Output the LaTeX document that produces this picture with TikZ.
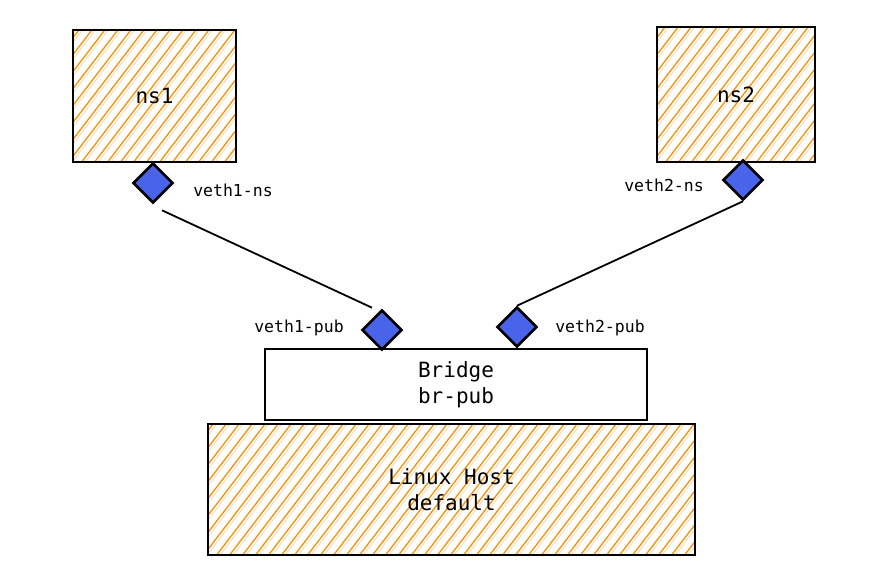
\documentclass[tikz,border=0pt]{standalone}
\usepackage{fontspec}
\setmonofont{DejaVu Sans Mono}
\usetikzlibrary{positioning,shapes.geometric}
\definecolor{hatchorange}{RGB}{247,145,5}
\definecolor{portblue}{RGB}{74,99,235}

\begin{document}
\begin{tikzpicture}[x=1pt,y=-1pt,
    box/.style={draw=black, line width=2.6pt, inner sep=0pt, align=center,
        font=\ttfamily\fontsize{21}{26}\selectfont},
    hatched/.style={path picture={
        \foreach \s in {-220,-207,...,520} {
            \draw[hatch] ([xshift=\s pt, yshift=-10pt]path picture bounding box.south west) -- ++(230,-300);
            \draw[hatchlight] ([xshift=\s pt + 3.5pt, yshift=-10pt]path picture bounding box.south west) -- ++(230,-300);
        }}},
    port/.style={diamond, draw=black, fill=portblue, line width=2.6pt,
        inner sep=0pt, minimum size=40pt},
    portlabel/.style={font=\ttfamily\fontsize{16.5}{20}\selectfont},
    hatch/.style={hatchorange, line width=1.3pt},
    hatchlight/.style={hatchorange, line width=0.7pt, opacity=0.4},
    link/.style={line width=1.8pt}]
    \useasboundingbox (0,0) rectangle (894,574);

    % Namespaces
    \node[box, hatched, minimum width=163pt, minimum height=132pt] (ns1) at (154.5,96) {ns1};
    \node[box, hatched, minimum width=158pt, minimum height=135pt] (ns2) at (736,94.5) {ns2};

    % Bridge and host
    \node[box, fill=white, minimum width=382pt, minimum height=71pt] (bridge) at (456,384.5) {Bridge\\br-pub};
    \node[box, hatched, minimum width=487pt, minimum height=131pt] (host) at (451.5,489.5) {Linux Host\\default};

    % veth ports
    \node[port] (p1ns) at (153,183) {};
    \node[port] (p2ns) at (743,180) {};
    \node[port] (p1pub) at (382,330) {};
    \node[port] (p2pub) at (517,327) {};

    % Port labels
    \node[portlabel] (l1ns) at (233,190) {veth1-ns};
    \node[portlabel] (l2ns) at (664,185) {veth2-ns};
    \node[portlabel] (l1pub) at (299,328) {veth1-pub};
    \node[portlabel] (l2pub) at (600,328) {veth2-pub};

    % veth pairs
    \draw[link] ([shift={(9,6)}]p1ns.south) -- ([shift={(-10,-1)}]p1pub.north);
    \draw[link] (p2ns.south) -- (p2pub.north);
\end{tikzpicture}
\end{document}
